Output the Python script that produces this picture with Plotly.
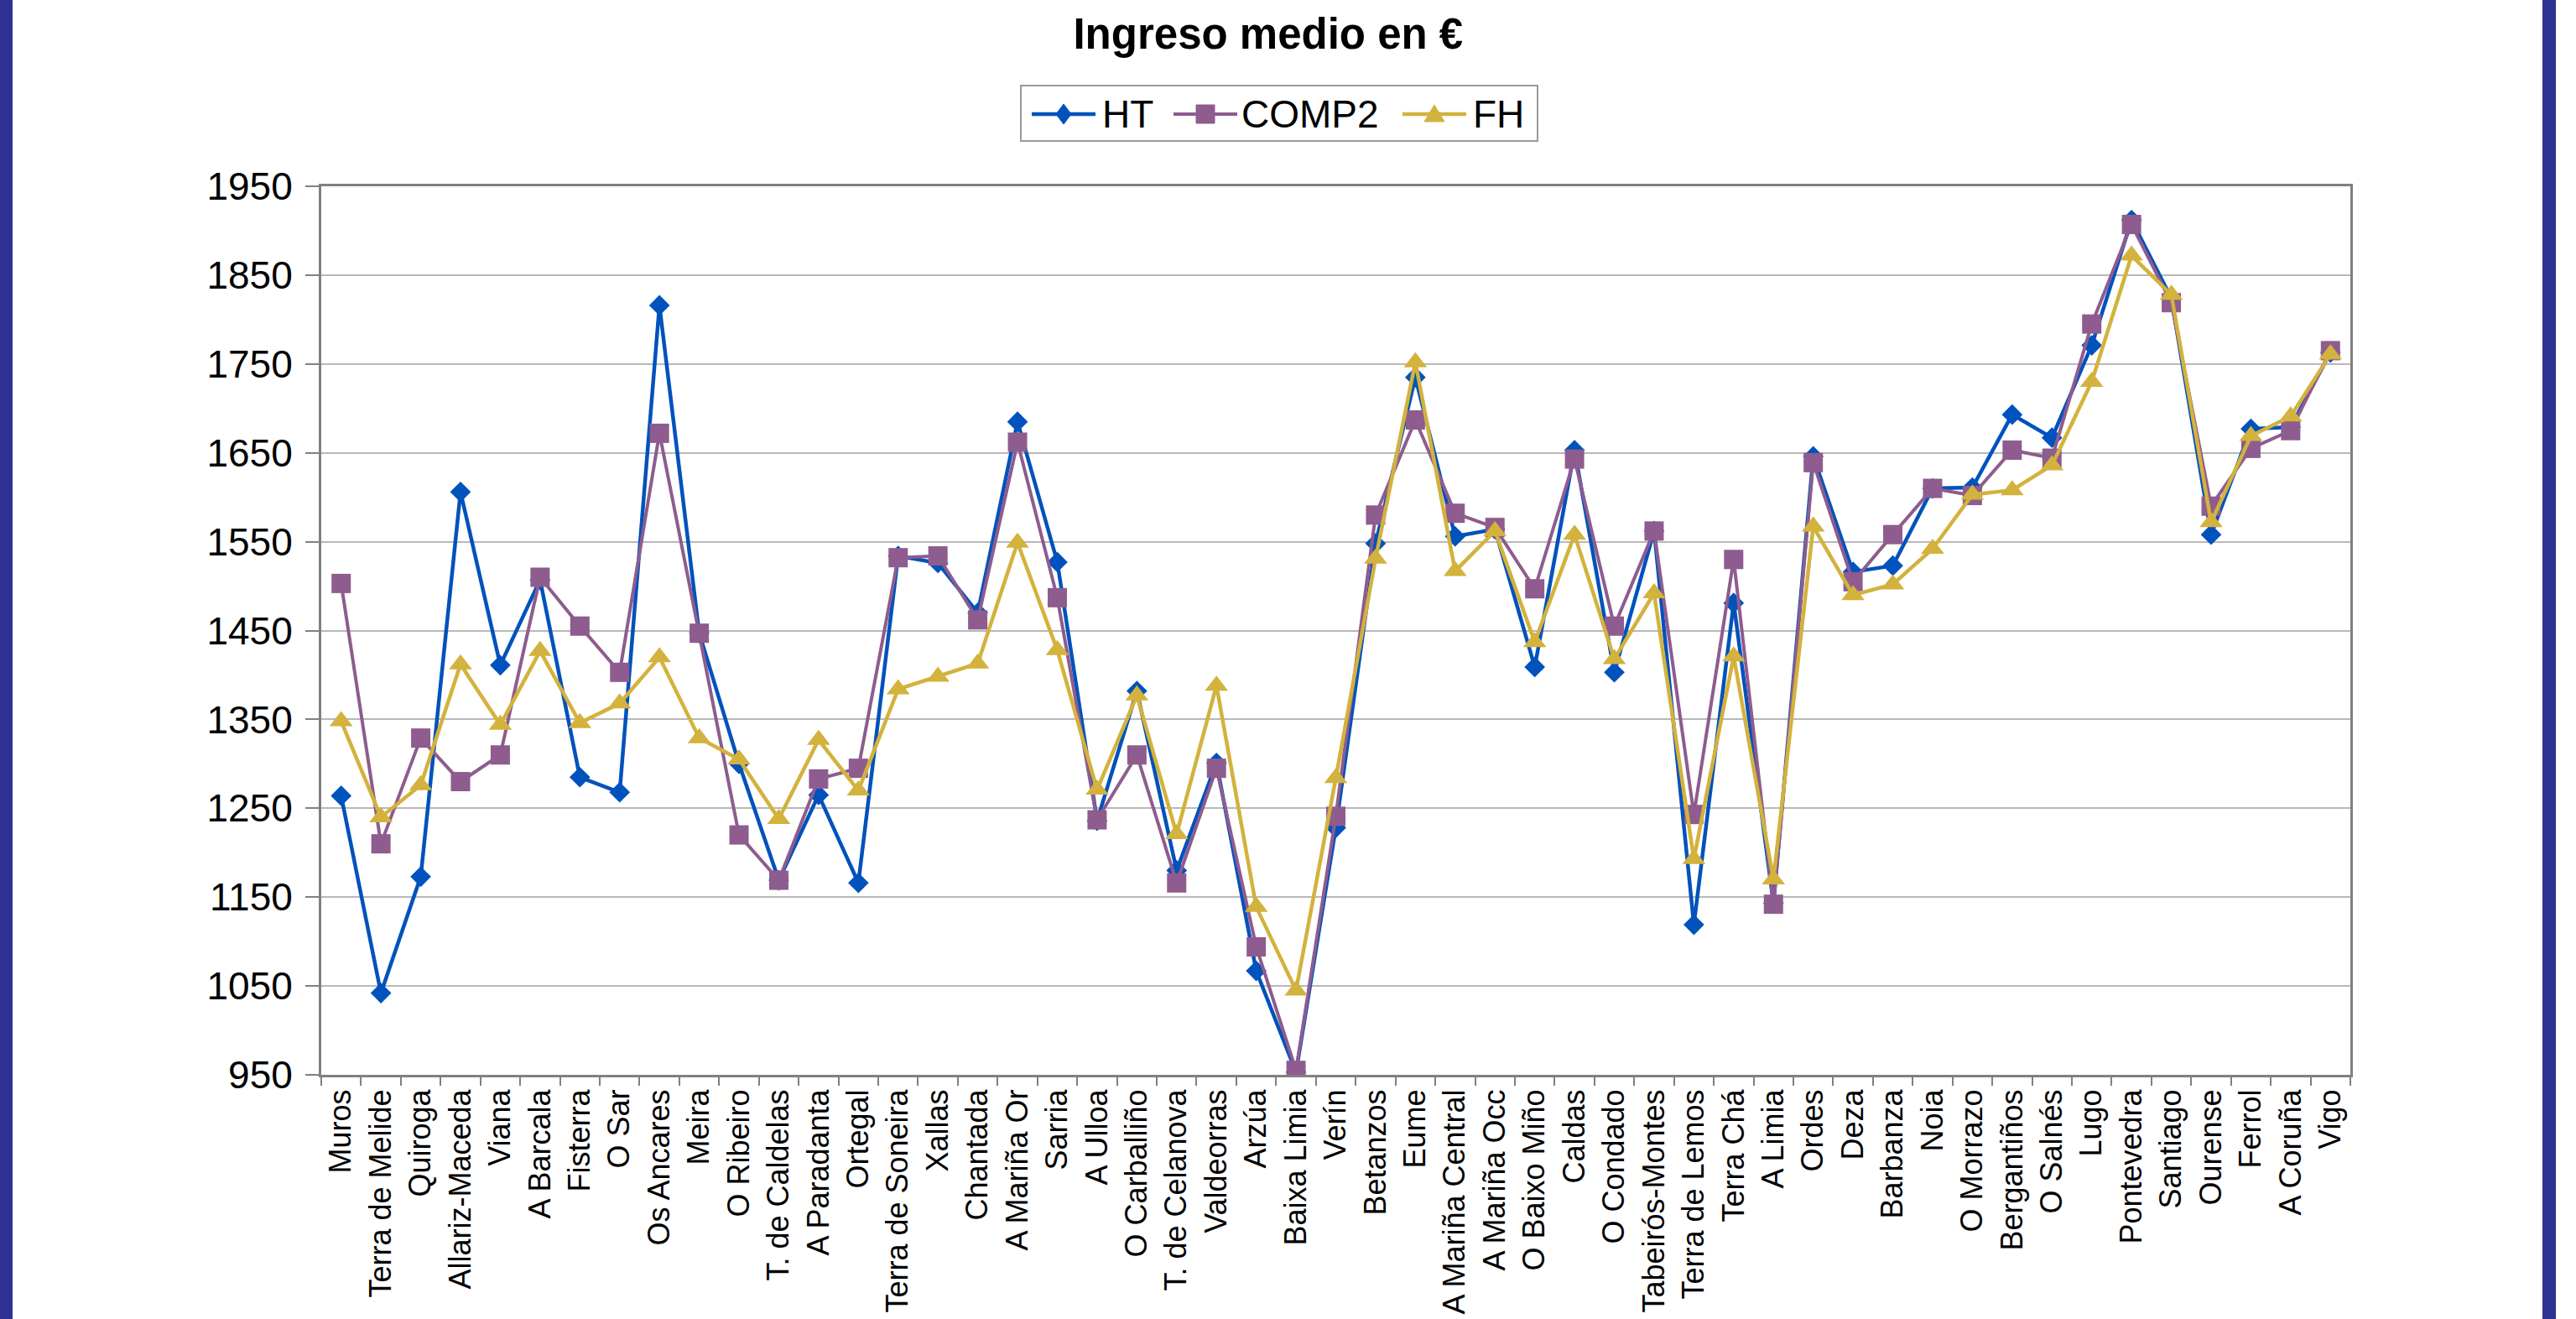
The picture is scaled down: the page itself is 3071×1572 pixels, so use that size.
import plotly.graph_objects as go

# Comarcas / cities along the x axis
categories = [
    "Muros", "Terra de Melide", "Quiroga", "Allariz-Maceda", "Viana", "A Barcala",
    "Fisterra", "O Sar", "Os Ancares", "Meira", "O Ribeiro", "T. de Caldelas",
    "A Paradanta", "Ortegal", "Terra de Soneira", "Xallas", "Chantada", "A Mariña Or",
    "Sarria", "A Ulloa", "O Carballiño", "T. de Celanova", "Valdeorras", "Arzúa",
    "Baixa Limia", "Verín", "Betanzos", "Eume", "A Mariña Central", "A Mariña Occ",
    "O Baixo Miño", "Caldas", "O Condado", "Tabeirós-Montes", "Terra de Lemos",
    "Terra Chá", "A Limia", "Ordes", "Deza", "Barbanza", "Noia", "O Morrazo",
    "Bergantiños", "O Salnés", "Lugo", "Pontevedra", "Santiago", "Ourense", "Ferrol",
    "A Coruña", "Vigo",
]

# Mean income (€) by estimator
ht = [1264, 1042, 1173, 1606, 1411, 1507, 1285, 1268, 1816, 1447,
      1300, 1169, 1265, 1166, 1534, 1526, 1470, 1685, 1527, 1236,
      1382, 1180, 1301, 1067, 953, 1228, 1548, 1735, 1556, 1564,
      1409, 1653, 1403, 1562, 1119, 1481, 1143, 1646, 1516, 1523,
      1610, 1611, 1693, 1667, 1771, 1912, 1824, 1558, 1677, 1679, 1763]
comp2 = [1503, 1210, 1329, 1280, 1310, 1510, 1455, 1403, 1672, 1447,
         1220, 1169, 1283, 1295, 1532, 1534, 1462, 1662, 1487, 1237,
         1310, 1166, 1295, 1094, 955, 1241, 1580, 1687, 1582, 1566,
         1497, 1643, 1455, 1562, 1243, 1530, 1142, 1639, 1505, 1558,
         1610, 1602, 1653, 1644, 1795, 1907, 1819, 1590, 1655, 1675, 1765]
fh = [1348, 1240, 1276, 1412, 1344, 1427, 1346, 1368, 1420, 1329,
      1305, 1238, 1327, 1270, 1384, 1398, 1413, 1549, 1428, 1271,
      1377, 1221, 1388, 1139, 1045, 1284, 1531, 1752, 1517, 1562,
      1437, 1558, 1418, 1492, 1193, 1421, 1170, 1567, 1490, 1502,
      1542, 1603, 1608, 1636, 1730, 1872, 1828, 1572, 1669, 1691, 1761]

series_names = ["HT", "COMP2", "FH"]
y_ticks = [950, 1050, 1150, 1250, 1350, 1450, 1550, 1650, 1750, 1850, 1950]

FONT = "Liberation Sans, Arial, Helvetica, sans-serif"
BLUE = "#0052BC"
PURPLE = "#8E5C8E"
GOLD = "#D3B23D"
FRAME = "#2F3192"

W, H = 3071, 1572
ML, MR, MT, MB = 383, 269, 222, 291
PW, PH = W - ML - MR, H - MT - MB


def px_x(x):
    """Page pixel column -> paper x."""
    return (x - ML) / PW


def px_y(y):
    """Page pixel row (from top) -> paper y."""
    return (H - MB - y) / PH


fig = go.Figure()
fig.add_trace(go.Scatter(
    x=categories, y=ht, name=series_names[0], mode="lines+markers",
    line=dict(color=BLUE, width=4.5),
    marker=dict(symbol="diamond", size=19, color=BLUE),
))
fig.add_trace(go.Scatter(
    x=categories, y=comp2, name=series_names[1], mode="lines+markers",
    line=dict(color=PURPLE, width=4),
    marker=dict(symbol="square", size=23, color=PURPLE),
))
fig.add_trace(go.Scatter(
    x=categories, y=fh, name=series_names[2], mode="lines+markers",
    line=dict(color=GOLD, width=4.5),
    marker=dict(symbol="triangle-up", size=24, color=GOLD),
))

shapes = []
annotations = []

# Dark blue vertical frame bars at the page edges
for x0, x1 in [(0, 15), (3031, 3047)]:
    shapes.append(dict(type="rect", xref="paper", yref="paper",
                       x0=px_x(x0), x1=px_x(x1), y0=px_y(H + 20), y1=px_y(-20),
                       fillcolor=FRAME, line=dict(width=0), layer="above"))

# Legend box drawn by hand: sample line, marker glyph and label for each series
shapes.append(dict(type="rect", xref="paper", yref="paper",
                   x0=px_x(1217), x1=px_x(1833), y0=px_y(168), y1=px_y(102),
                   fillcolor="white", line=dict(color="#9a9a9a", width=2), layer="above"))
legend_y = px_y(136)
glyphs = {
    "HT": "M0,12 L9,0 L0,-12 L-9,0 Z",
    "COMP2": "M-11,-11 L11,-11 L11,11 L-11,11 Z",
    "FH": "M-12,-9 L12,-9 L0,11 Z",
}
legend_items = [
    ("HT", BLUE, 4.5, 1230, 1306, 1313),
    ("COMP2", PURPLE, 4, 1399, 1475, 1479),
    ("FH", GOLD, 4.5, 1672, 1748, 1755),
]
for name, color, lw, lx0, lx1, tx in legend_items:
    shapes.append(dict(type="line", xref="paper", yref="paper",
                       x0=px_x(lx0), x1=px_x(lx1), y0=legend_y, y1=legend_y,
                       line=dict(color=color, width=lw), layer="above"))
    shapes.append(dict(type="path", xref="paper", yref="paper",
                       xsizemode="pixel", ysizemode="pixel",
                       xanchor=px_x((lx0 + lx1) / 2), yanchor=legend_y,
                       path=glyphs[name], fillcolor=color,
                       line=dict(color=color, width=1), layer="above"))
    annotations.append(dict(text=name, xref="paper", yref="paper",
                            x=px_x(tx), y=legend_y, xanchor="left", yanchor="middle",
                            showarrow=False, borderpad=0,
                            font=dict(size=46, family=FONT, color="black")))

fig.update_layout(
    width=W, height=H,
    margin=dict(l=ML, r=MR, t=MT, b=MB, autoexpand=False),
    paper_bgcolor="white", plot_bgcolor="white",
    font=dict(family=FONT, color="black"),
    title=dict(text="<b>Ingreso medio en €</b>", font=dict(size=51, family=FONT, color="black"),
               x=0.4923, xref="container", xanchor="center",
               y=1 - 40 / H, yref="container", yanchor="middle"),
    showlegend=False,
    shapes=shapes,
    annotations=annotations,
)

fig.update_xaxes(
    type="category", range=[-0.5, len(categories) - 0.5],
    tickangle=-90, tickfont=dict(size=36, family=FONT, color="black"),
    showline=True, linecolor="#808080", linewidth=3, mirror=True,
    ticks="outside", ticklen=10, tickcolor="#808080", tickwidth=1.5,
    tickson="boundaries", showgrid=False,
)
fig.update_yaxes(
    range=[950, 1950], tickvals=y_ticks, ticktext=[str(v) for v in y_ticks],
    tickfont=dict(size=46, family=FONT, color="black"),
    showline=True, linecolor="#808080", linewidth=3, mirror=True,
    ticks="outside", ticklen=16, tickcolor="#808080", tickwidth=1.5,
    showgrid=True, gridcolor="#b8b8b8", gridwidth=1.5, zeroline=False,
    ticklabelstandoff=6,
)

fig.write_html("out.html")
